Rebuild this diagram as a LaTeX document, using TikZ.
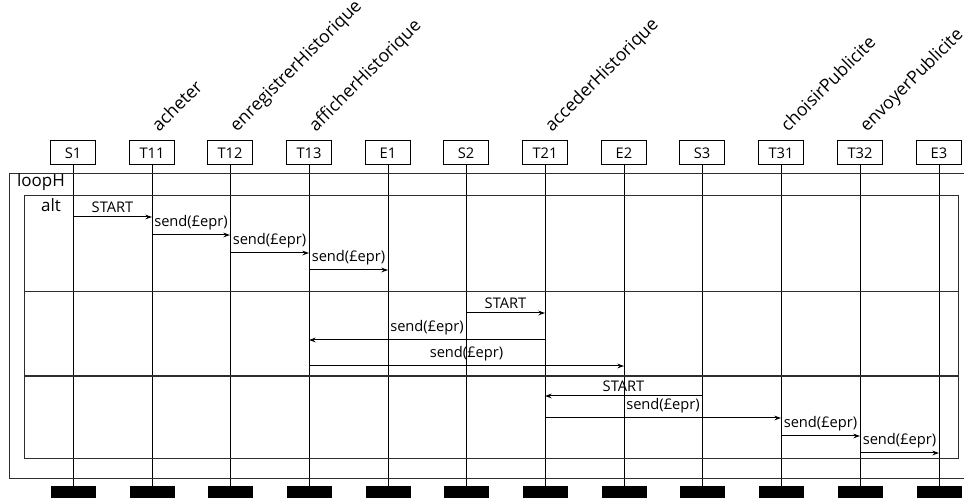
\documentclass[tikz,border=0pt]{standalone}
\usepackage{fontspec}
\setmainfont{Open Sans}
\usetikzlibrary{arrows.meta,positioning}
\definecolor{ink}{HTML}{000000}
\definecolor{frameline}{HTML}{2E2E2E}
\tikzset{
  % ---- participants ----------------------------------------------
  head/.style       = {rectangle, draw=ink, line width=.75pt, fill=white,
                       minimum width=33.75pt, minimum height=18pt,
                       inner sep=0pt, font=\fontsize{11}{13}\selectfont},
  foot/.style       = {rectangle, fill=ink, minimum width=33.75pt,
                       minimum height=9pt, inner sep=0pt},
  lifeline/.style   = {draw=ink, line width=.75pt},
  oplab/.style      = {rotate=45, anchor=base west, inner sep=0pt,
                       font=\fontsize{13.3}{15}\selectfont},
  % ---- combined fragments ----------------------------------------
  fragbox/.style    = {draw=frameline, line width=.75pt},
  fragsep/.style    = {draw=frameline, line width=.75pt},
  fragsepbold/.style= {fragsep, line width=1.5pt},
  fraglab/.style    = {anchor=base, inner sep=0pt,
                       font=\fontsize{12.75}{15}\selectfont},
  % ---- messages --------------------------------------------------
  msg/.style        = {draw=ink, line width=.75pt,
                       -{Stealth[length=5pt,width=3.5pt]}},
  msglab/.style     = {above, inner sep=3pt,
                       font=\fontsize{11}{13}\selectfont},
}

\begin{document}
\begin{tikzpicture}
\begin{scope}[x=0.75pt,y=-0.75pt]
  \useasboundingbox (0,0) rectangle (964,498);
  % heads
  \node[head] (hS1)  at (73,153)  {S1};
  \node[head] (hT11) at (152,153) {T11};
  \node[head] (hT12) at (230,153) {T12};
  \node[head] (hT13) at (309,153) {T13};
  \node[head] (hE1)  at (388,153) {E1};
  \node[head] (hS2)  at (466,153) {S2};
  \node[head] (hT21) at (545,153) {T21};
  \node[head] (hE2)  at (624,153) {E2};
  \node[head] (hS3)  at (702,153) {S3};
  \node[head] (hT31) at (781,153) {T31};
  \node[head] (hT32) at (860,153) {T32};
  \node[head] (hE3)  at (939,153) {E3};
  % operation names
  \node[oplab] (oT11) at ([shift={(7,-8)}]hT11.north) {acheter};
  \node[oplab] (oT12) at ([shift={(7,-8)}]hT12.north) {enregistrerHistorique};
  \node[oplab] (oT13) at ([shift={(7,-8)}]hT13.north) {afficherHistorique};
  \node[oplab] (oT21) at ([shift={(7,-8)}]hT21.north) {accederHistorique};
  \node[oplab] (oT31) at ([shift={(7,-8)}]hT31.north) {choisirPublicite};
  \node[oplab] (oT32) at ([shift={(7,-8)}]hT32.north) {envoyerPublicite};
  % feet
  \node[foot] (fS1)  at (73,492)  {};
  \node[foot] (fT11) at (152,492) {};
  \node[foot] (fT12) at (230,492) {};
  \node[foot] (fT13) at (309,492) {};
  \node[foot] (fE1)  at (388,492) {};
  \node[foot] (fS2)  at (466,492) {};
  \node[foot] (fT21) at (545,492) {};
  \node[foot] (fE2)  at (624,492) {};
  \node[foot] (fS3)  at (702,492) {};
  \node[foot] (fT31) at (781,492) {};
  \node[foot] (fT32) at (860,492) {};
  \node[foot] (fE3)  at (939,492) {};
  % lifelines
  \draw[lifeline] (hS1) -- (fS1);
  \draw[lifeline] (hT11) -- (fT11);
  \draw[lifeline] (hT12) -- (fT12);
  \draw[lifeline] (hT13) -- (fT13);
  \draw[lifeline] (hE1) -- (fE1);
  \draw[lifeline] (hS2) -- (fS2);
  \draw[lifeline] (hT21) -- (fT21);
  \draw[lifeline] (hE2) -- (fE2);
  \draw[lifeline] (hS3) -- (fS3);
  \draw[lifeline] (hT31) -- (fT31);
  \draw[lifeline] (hT32) -- (fT32);
  \draw[lifeline] (hE3) -- (fE3);
  % fragments
  \draw[fragbox] (964,174) -- (9,174) -- (9,479) -- (964,479);
  \node[fraglab] (lLoop) at (41,187) {loopH};
  \draw[fragbox] (24,196) rectangle (958,459);
  \node[fraglab] (lAlt) at (51,211.7) {alt};
  \draw[fragsep] (24,292) -- (958,292);
  \draw[fragsepbold] (24,376) -- (958,376);
  % message rows
  \coordinate (r1) at (0,217);
  \coordinate (r2) at (0,235);
  \coordinate (r3) at (0,253);
  \coordinate (r4) at (0,270);
  \coordinate (r5) at (0,313);
  \coordinate (r6) at (0,340);
  \coordinate (r7) at (0,366);
  \coordinate (r8) at (0,396);
  \coordinate (r9) at (0,418);
  \coordinate (r10) at (0,436);
  \coordinate (r11) at (0,453);
  % messages
  \draw[msg] (hS1 |- r1) -- node[msglab] {START} (hT11 |- r1);
  \draw[msg] (hT11 |- r2) -- node[msglab] {send(£epr)} (hT12 |- r2);
  \draw[msg] (hT12 |- r3) -- node[msglab] {send(£epr)} (hT13 |- r3);
  \draw[msg] (hT13 |- r4) -- node[msglab] {send(£epr)} (hE1 |- r4);
  \draw[msg] (hS2 |- r5) -- node[msglab] {START} (hT21 |- r5);
  \draw[msg] (hT21 |- r6) -- node[msglab] {send(£epr)} (hT13 |- r6);
  \draw[msg] (hT13 |- r7) -- node[msglab] {send(£epr)} (hE2 |- r7);
  \draw[msg] (hS3 |- r8) -- node[msglab] {START} (hT21 |- r8);
  \draw[msg] (hT21 |- r9) -- node[msglab] {send(£epr)} (hT31 |- r9);
  \draw[msg] (hT31 |- r10) -- node[msglab] {send(£epr)} (hT32 |- r10);
  \draw[msg] (hT32 |- r11) -- node[msglab] {send(£epr)} (hE3 |- r11);
\end{scope}
\end{tikzpicture}
\end{document}
